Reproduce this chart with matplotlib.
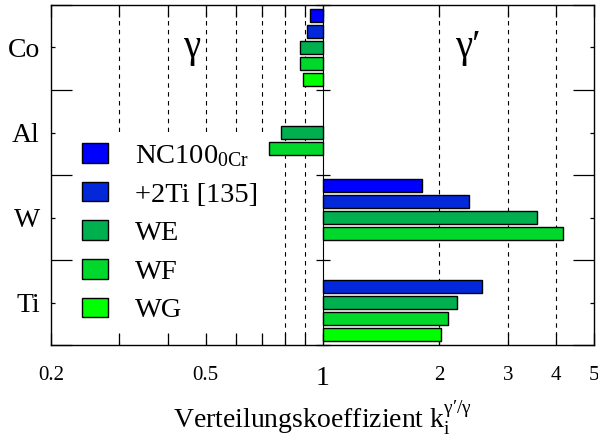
import numpy as np
import matplotlib
matplotlib.use('Agg')
import matplotlib.pyplot as plt
from matplotlib.ticker import FixedLocator, FixedFormatter, NullFormatter

plt.rcParams['font.family'] = ['Liberation Serif', 'DejaVu Serif']
plt.rcParams['mathtext.fontset'] = 'custom'
plt.rcParams['mathtext.rm'] = 'Liberation Serif'
plt.rcParams['mathtext.it'] = 'Liberation Serif:italic'

ELEMENTS = ['Co', 'Al', 'W', 'Ti']
ALLOYS = [r'NC100$_{\mathrm{0Cr}}$', '+2Ti [135]', 'WE', 'WF', 'WG']
COLORS = ['#0000ff', '#0228da', '#00b04f', '#00d82c', '#00ff00']

# partition coefficients k = c(gamma') / c(gamma), nan = not measured
K_NC100 = [0.93, np.nan, 1.80, np.nan]
K_2TI = [0.91, np.nan, 2.39, 2.58]
K_WE = [0.877, 0.783, 3.56, 2.22]
K_WF = [0.877, 0.727, 4.15, 2.10]
K_WG = [0.892, np.nan, np.nan, 2.02]
K_ALL = [K_NC100, K_2TI, K_WE, K_WF, K_WG]

XTICKS = [0.2, 0.5, 1, 2, 3, 4, 5]
XTICKLABELS = ['0.2', '0.5', '1', '2', '3', '4', '5']
GRID = [0.3, 0.4, 0.5, 0.6, 0.7, 0.8, 0.9, 2, 3, 4]

fig = plt.figure(figsize=(5.98, 4.38), dpi=100)
ax = fig.add_axes([0.0853, 0.2123, 0.9080, 0.7763])
ax.set_xscale('log')

y = np.arange(len(ELEMENTS))
step, height = 0.19, 0.155
for k, (vals, col, lab) in enumerate(zip(K_ALL, COLORS, ALLOYS)):
    vals = np.array(vals)
    ax.barh(y + (k - 2) * step, vals - 1, left=1, height=height, color=col,
            edgecolor='black', linewidth=1.0, label=lab, zorder=3)

for g in GRID:
    ax.axvline(g, color='black', ls=(0, (4, 4)), lw=0.8, zorder=0.5)

ax.set_xlim(0.2, 5)
ax.set_ylim(len(ELEMENTS) - 0.5, -0.5)

ax.xaxis.set_major_locator(FixedLocator(XTICKS))
ax.xaxis.set_major_formatter(FixedFormatter(XTICKLABELS))
ax.xaxis.set_minor_locator(FixedLocator([0.3, 0.4, 0.6, 0.7, 0.8, 0.9]))
ax.xaxis.set_minor_formatter(NullFormatter())
ax.tick_params(axis='x', which='both', direction='in', top=True, length=8.5,
               width=0.9, labelsize=15, pad=15)
for t in ax.get_xticklabels():
    if t.get_text() == '1':
        t.set_fontsize(20)

ax.set_yticks(y)
ax.set_yticklabels(ELEMENTS)
ax.yaxis.set_minor_locator(FixedLocator(np.arange(len(ELEMENTS) + 1) - 0.5))
ax.tick_params(axis='y', which='major', direction='in', right=True, length=3,
               width=0.9, labelsize=20, pad=8)
ax.tick_params(axis='y', which='minor', direction='in', right=True, length=15,
               width=0.9)
for s in ax.spines.values():
    s.set_linewidth(1.0)

# axis line at k = 1 separating gamma and gamma'
mid = ax.secondary_yaxis(0.5)
mid.set_yticks(np.arange(len(ELEMENTS) + 1) - 0.5)
mid.set_yticklabels([])
mid.tick_params(direction='inout', length=10, width=0.9)
mid.spines['left'].set_linewidth(1.0)

ax.text(0.46, 0.0, 'γ', fontsize=28, ha='center', va='center')
ax.text(2.36, 0.0, 'γ′', fontsize=28, ha='center', va='center')

ax.set_xlabel(r'Verteilungskoeffizient k$_{\mathrm{i}}^{\mathrm{\gamma\prime/\gamma}}$',
              fontsize=20)
ax.xaxis.set_label_coords(0.5, -0.16)

leg = ax.legend(loc='upper left', bbox_to_anchor=(0.037, 0.627), fontsize=20.5,
                frameon=True, facecolor='white', edgecolor='none', framealpha=1,
                fancybox=False, handlelength=0.9, handleheight=0.68,
                handletextpad=0.95, labelspacing=0.45, borderpad=0.4,
                borderaxespad=0)
leg.set_zorder(1)

fig.savefig('out.png', dpi=100)
